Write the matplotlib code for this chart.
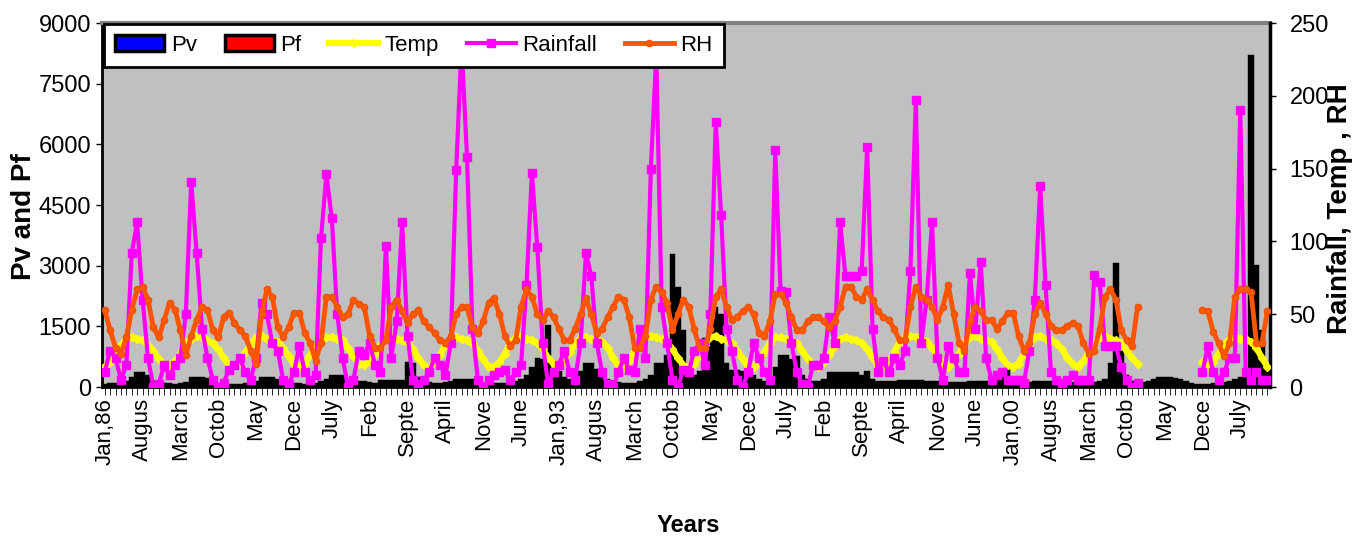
import numpy as np
import matplotlib
matplotlib.use('Agg')
import matplotlib.pyplot as plt
from matplotlib.patches import Patch

plt.rcParams['font.family'] = ['Liberation Sans', 'DejaVu Sans']

nan = np.nan

# monthly values, Jan 1986 .. Dec 2003
# Pv (left axis)
pv_86 = [80, 90, 100, 120, 150, 250, 370, 370, 300, 150, 100, 90]
pv_87 = [90, 80, 100, 120, 250, 250, 250, 220, 150, 100, 90, 80]
pv_88 = [80, 70, 90, 100, 150, 250, 250, 250, 200, 120, 100, 90]
pv_89 = [90, 80, 90, 100, 150, 200, 300, 300, 300, 150, 120, 150]
pv_90 = [150, 120, 100, 170, 170, 170, 170, 170, 620, 600, 250, 150]
pv_91 = [120, 100, 100, 120, 150, 200, 200, 200, 200, 150, 100, 100]
pv_92 = [100, 90, 100, 120, 150, 200, 300, 500, 720, 700, 1530, 300]
pv_93 = [400, 250, 200, 250, 400, 590, 590, 450, 300, 200, 150, 120]
pv_94 = [100, 90, 100, 150, 200, 300, 590, 590, 800, 3300, 2480, 1400]
pv_95 = [500, 300, 400, 1200, 1580, 1980, 1800, 600, 420, 420, 400, 350]
pv_96 = [300, 200, 150, 200, 500, 790, 790, 700, 770, 300, 200, 150]
pv_97 = [150, 200, 370, 370, 370, 370, 370, 370, 300, 400, 200, 150]
pv_98 = [150, 150, 150, 170, 170, 170, 170, 170, 150, 150, 150, 150]
pv_99 = [120, 120, 120, 130, 150, 150, 150, 150, 150, 200, 300, 500]
pv_00 = [200, 150, 120, 120, 150, 150, 150, 150, 130, 120, 120, 120]
pv_01 = [100, 100, 100, 120, 150, 200, 600, 3070, 900, 300, 150, 100]
pv_02 = [120, 150, 200, 250, 250, 250, 230, 200, 150, 100, 80, 80]
pv_03 = [80, 100, 100, 120, 150, 200, 250, 400, 8200, 3020, 1400, 500]

# Pf (left axis)
pf_86 = [40, 45, 50, 60, 75, 125, 185, 185, 150, 75, 50, 45]
pf_87 = [45, 40, 50, 60, 125, 125, 125, 110, 75, 50, 45, 40]
pf_88 = [40, 35, 45, 50, 75, 125, 125, 125, 100, 60, 50, 45]
pf_89 = [45, 40, 45, 50, 75, 100, 150, 150, 150, 75, 60, 75]
pf_90 = [75, 60, 50, 85, 85, 85, 85, 85, 310, 300, 125, 75]
pf_91 = [60, 50, 50, 60, 75, 100, 100, 100, 100, 75, 50, 50]
pf_92 = [50, 45, 50, 60, 75, 100, 150, 250, 360, 350, 760, 150]
pf_93 = [200, 125, 100, 125, 200, 295, 295, 225, 150, 100, 75, 60]
pf_94 = [50, 45, 50, 75, 100, 150, 295, 295, 400, 1650, 1240, 700]
pf_95 = [250, 150, 200, 600, 790, 990, 900, 300, 210, 210, 200, 175]
pf_96 = [150, 100, 75, 100, 250, 395, 395, 350, 385, 150, 100, 75]
pf_97 = [75, 100, 185, 185, 185, 185, 185, 185, 150, 200, 100, 75]
pf_98 = [75, 75, 75, 85, 85, 85, 85, 85, 75, 75, 75, 75]
pf_99 = [60, 60, 60, 65, 75, 75, 75, 75, 75, 100, 150, 250]
pf_00 = [100, 75, 60, 60, 75, 75, 75, 75, 65, 60, 60, 60]
pf_01 = [50, 50, 50, 60, 75, 100, 300, 1535, 450, 150, 75, 50]
pf_02 = [60, 75, 100, 125, 125, 125, 115, 100, 75, 50, 40, 40]
pf_03 = [40, 50, 50, 60, 75, 100, 125, 200, 4100, 1510, 700, 250]

# Temp (right axis)
temp_86 = [14, 17, 24, 29, 33, 34, 33, 32, 29, 25, 19, 15]
temp_87 = [14, 18, 23, 30, 33, 35, 34, 32, 30, 26, 20, 15]
temp_88 = [15, 17, 24, 29, 34, 35, 33, 32, 31, 27, 21, 16]
temp_89 = [14, 16, 22, 28, 33, 34, 34, 33, 32, 27, 21, 16]
temp_90 = [15, 18, 23, 29, 34, 35, 33, 32, 30, 26, 20, 15]
temp_91 = [13, 17, 22, 29, 33, 34, 33, 32, 30, 25, 19, 14]
temp_92 = [14, 17, 23, 30, 34, 35, 33, 32, 30, 26, 20, 16]
temp_93 = [15, 18, 24, 30, 34, 34, 33, 32, 31, 27, 20, 15]
temp_94 = [14, 18, 25, 30, 34, 35, 34, 33, 31, 26, 20, 15]
temp_95 = [13, 16, 22, 29, 34, 35, 33, 32, 30, 25, 19, 14]
temp_96 = [14, 18, 24, 30, 34, 34, 33, 32, 30, 25, 19, 15]
temp_97 = [14, 17, 22, 28, 33, 34, 33, 32, 30, 26, 20, 15]
temp_98 = [15, 18, 24, 31, 34, 35, 34, 33, 31, 27, 21, 16]
temp_99 = [14, 17, 23, 30, 34, 35, 33, 32, 31, 26, 20, 15]
temp_00 = [14, 16, 23, 29, 34, 35, 33, 32, 30, 26, 20, 16]
temp_01 = [14, 18, 24, 30, 34, 35, 33, 32, 30, 25, 20, 16]
temp_02 = [nan, nan, nan, nan, nan, nan, nan, nan, nan, nan, nan, 17]
temp_03 = [14, 17, 23, 29, 33, 34, 33, 33, 31, 27, 20, 14]

# Rainfall (right axis)
rain_86 = [10, 25, 20, 5, 15, 92, 113, 60, 20, 0, 2, 15]
rain_87 = [8, 15, 20, 50, 141, 92, 40, 20, 5, 0, 3, 12]
rain_88 = [15, 20, 10, 5, 20, 58, 50, 30, 25, 5, 2, 10]
rain_89 = [28, 10, 5, 8, 102, 146, 116, 50, 20, 0, 5, 25]
rain_90 = [22, 30, 15, 10, 97, 20, 45, 113, 35, 5, 2, 5]
rain_91 = [10, 20, 15, 8, 30, 149, 235, 158, 40, 5, 0, 5]
rain_92 = [8, 10, 12, 5, 10, 15, 70, 147, 96, 30, 2, 10]
rain_93 = [15, 25, 10, 5, 30, 92, 76, 30, 10, 2, 0, 10]
rain_94 = [20, 12, 10, 40, 20, 150, 228, 55, 30, 5, 0, 12]
rain_95 = [10, 25, 30, 15, 50, 182, 118, 40, 25, 5, 0, 10]
rain_96 = [30, 20, 10, 5, 163, 66, 65, 30, 10, 2, 0, 15]
rain_97 = [15, 20, 48, 30, 113, 76, 76, 76, 80, 165, 40, 10]
rain_98 = [18, 10, 20, 15, 25, 80, 197, 30, 60, 113, 20, 5]
rain_99 = [28, 20, 10, 10, 78, 40, 86, 20, 5, 8, 10, 5]
rain_00 = [5, 5, 3, 25, 60, 138, 70, 10, 5, 3, 5, 8]
rain_01 = [5, 5, 5, 77, 72, 28, 28, 28, 14, 5, 0, 3]
rain_02 = [nan, nan, nan, nan, nan, nan, nan, nan, nan, nan, nan, 10]
rain_03 = [28, 10, 5, 10, 20, 20, 190, 10, 5, 10, 5, 5]

# RH (right axis)
rh_86 = [53, 39, 27, 23, 34, 53, 67, 69, 60, 41, 34, 46]
rh_87 = [58, 53, 39, 22, 35, 46, 55, 53, 39, 34, 48, 51]
rh_88 = [44, 39, 35, 25, 16, 50, 67, 62, 41, 34, 41, 51]
rh_89 = [51, 37, 30, 18, 30, 62, 62, 55, 48, 50, 60, 57]
rh_90 = [55, 35, 27, 27, 32, 55, 60, 52, 44, 50, 53, 45]
rh_91 = [41, 37, 32, 30, 35, 50, 55, 55, 41, 37, 45, 58]
rh_92 = [61, 50, 35, 28, 32, 55, 67, 62, 50, 46, 52, 48]
rh_93 = [40, 32, 32, 40, 50, 61, 50, 37, 40, 48, 55, 62]
rh_94 = [60, 48, 27, 27, 35, 60, 69, 65, 58, 39, 50, 60]
rh_95 = [55, 40, 27, 27, 40, 62, 67, 55, 46, 48, 52, 55]
rh_96 = [50, 37, 35, 45, 64, 64, 58, 48, 39, 39, 45, 48]
rh_97 = [48, 45, 41, 45, 55, 69, 69, 62, 60, 67, 60, 52]
rh_98 = [48, 46, 40, 32, 32, 55, 69, 62, 60, 55, 46, 55]
rh_99 = [70, 50, 30, 25, 45, 55, 52, 46, 46, 40, 45, 51]
rh_00 = [51, 35, 25, 30, 50, 58, 50, 42, 39, 39, 42, 44]
rh_01 = [42, 30, 23, 25, 40, 62, 67, 60, 39, 32, 28, 55]
rh_02 = [nan, nan, nan, nan, nan, nan, nan, nan, nan, nan, nan, 53]
rh_03 = [52, 38, 30, 21, 30, 62, 67, 67, 65, 30, 30, 52]

tick_labels = ['Jan,86', 'Augus', 'March', 'Octob', 'May', 'Dece', 'July', 'Feb',
               'Septe', 'April', 'Nove', 'June', 'Jan,93', 'Augus', 'March', 'Octob',
               'May', 'Dece', 'July', 'Feb', 'Septe', 'April', 'Nove', 'June',
               'Jan,00', 'Augus', 'March', 'Octob', 'May', 'Dece', 'July']


def join(*years):
    out = []
    for y in years:
        out += y
    return np.array(out, dtype=float)


pv = join(pv_86, pv_87, pv_88, pv_89, pv_90, pv_91, pv_92, pv_93, pv_94,
          pv_95, pv_96, pv_97, pv_98, pv_99, pv_00, pv_01, pv_02, pv_03)
pf = join(pf_86, pf_87, pf_88, pf_89, pf_90, pf_91, pf_92, pf_93, pf_94,
          pf_95, pf_96, pf_97, pf_98, pf_99, pf_00, pf_01, pf_02, pf_03)
temp = join(temp_86, temp_87, temp_88, temp_89, temp_90, temp_91, temp_92, temp_93, temp_94,
            temp_95, temp_96, temp_97, temp_98, temp_99, temp_00, temp_01, temp_02, temp_03)
rain = join(rain_86, rain_87, rain_88, rain_89, rain_90, rain_91, rain_92, rain_93, rain_94,
            rain_95, rain_96, rain_97, rain_98, rain_99, rain_00, rain_01, rain_02, rain_03)
rh = join(rh_86, rh_87, rh_88, rh_89, rh_90, rh_91, rh_92, rh_93, rh_94,
          rh_95, rh_96, rh_97, rh_98, rh_99, rh_00, rh_01, rh_02, rh_03)

x = np.arange(len(pv))
W, H = 1363, 542

fig = plt.figure(figsize=(W / 100, H / 100), dpi=100)
ax = fig.add_axes([102 / W, 1 - 387 / H, (1270 - 102) / W, (387 - 23) / H])
ax.set_facecolor('#C0C0C0')

ax.bar(x, pf, width=1.0, color='red', edgecolor='none', zorder=2)
ax.bar(x, pv, width=1.0, color='black', edgecolor='black', linewidth=0.3, zorder=3)
ax.set_xlim(-0.5, len(x) - 0.5)
ax.set_ylim(0, 9000)
ax.set_yticks(np.arange(0, 9001, 1500))
ax.tick_params(axis='y', labelsize=17, length=4, width=1, pad=4)

labels = [''] * len(x)
for k, lab in enumerate(tick_labels):
    labels[k * 7] = lab
ax.set_xticks(x)
ax.set_xticklabels(labels, rotation=90, fontsize=16)
ax.tick_params(axis='x', length=6, width=0.6, pad=2)

for side in ['left', 'bottom']:
    ax.spines[side].set_color('black')
    ax.spines[side].set_linewidth(2)
ax.spines['top'].set_color('#808080')
ax.spines['top'].set_linewidth(3)
ax.spines['right'].set_visible(False)

ax.set_ylabel('Pv and Pf', fontsize=20, fontweight='bold')
ax.yaxis.set_label_coords(-0.056, 0.467)

ax2 = ax.twinx()
ax2.set_ylim(0, 250)
ax2.set_yticks(np.arange(0, 251, 50))
ax2.tick_params(axis='y', labelsize=17, length=4, width=1, pad=10)
for side in ['left', 'top', 'bottom']:
    ax2.spines[side].set_visible(False)
ax2.spines['right'].set_color('black')
ax2.spines['right'].set_linewidth(2.5)

l_temp, = ax2.plot(x, temp, color='#FFFF00', lw=4.5, marker='D', ms=4,
                   markeredgecolor='#FFFF00', label='Temp', zorder=3)
l_rain, = ax2.plot(x, rain, color='#FF00FF', lw=3, marker='s', ms=6,
                   label='Rainfall', zorder=4)
l_rh, = ax2.plot(x, rh, color='#FF5500', lw=3.5, marker='o', ms=4.5,
                 markerfacecolor='#FF5A00', markeredgecolor='#F05000', label='RH', zorder=5)

ax2.set_ylabel('Rainfall, Temp , RH', fontsize=20, fontweight='bold', rotation=90)
ax2.yaxis.set_label_coords(1.049, 0.49)

fig.text(688 / W, 1 - 526 / H, 'Years', ha='center', va='center',
         fontsize=17, fontweight='bold')

handles = [Patch(facecolor='#0000FF', edgecolor='black', linewidth=2.5),
           Patch(facecolor='#FF0000', edgecolor='black', linewidth=2.5),
           l_temp, l_rain, l_rh]
leg = ax2.legend(handles, ['Pv', 'Pf', 'Temp', 'Rainfall', 'RH'], loc='upper left',
                 bbox_to_anchor=(0.002, 0.998), ncol=5, fontsize=16, frameon=True,
                 fancybox=False, framealpha=1, edgecolor='black', borderaxespad=0,
                 handlelength=2.2, handletextpad=0.3, columnspacing=1.25,
                 borderpad=0.5)
leg.get_frame().set_linewidth(2)

fig.savefig('out.png', dpi=100)
